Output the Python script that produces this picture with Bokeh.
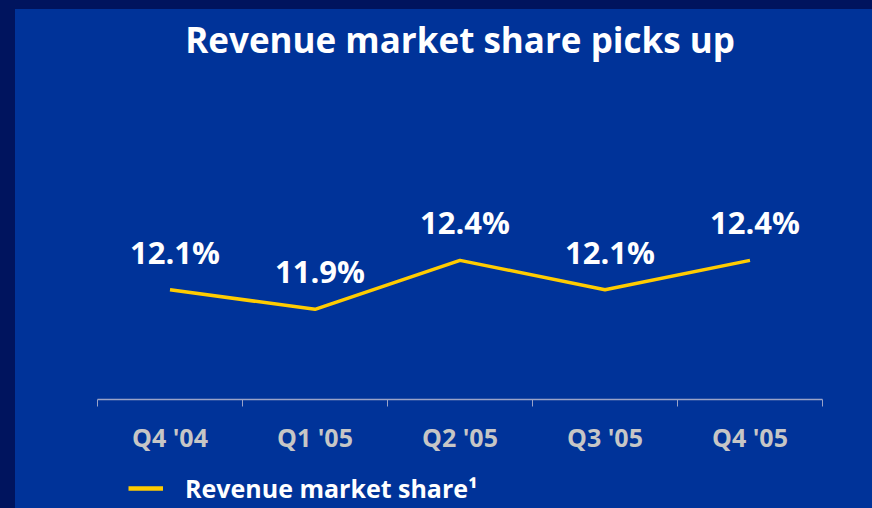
from bokeh.plotting import figure
from bokeh.layouts import column
from bokeh.models import FixedTicker, Legend, LegendItem, Range1d, ColumnDataSource, Title
from bokeh.core.properties import value
from bokeh.embed import file_html
from bokeh.resources import INLINE

quarters = ["Q4 '04", "Q1 '05", "Q2 '05", "Q3 '05", "Q4 '05"]
share = [12.1, 11.9, 12.4, 12.1, 12.4]
share_labels = ["12.1%", "11.9%", "12.4%", "12.1%", "12.4%"]
series_name = "Revenue market share\u00b9"
title_text = "Revenue market share picks up"

BLUE = "#003399"
NAVY = "#00145e"
YELLOW = "#ffcc00"
FONT = "Open Sans"

xpos = [i + 0.5 for i in range(len(quarters))]
src = ColumnDataSource(dict(x=xpos, y=share, lab=share_labels))

p = figure(frame_width=725, frame_height=322, output_backend="svg", toolbar_location=None,
           x_range=Range1d(0, len(quarters)), y_range=Range1d(10.98, 14.266),
           min_border_left=82, min_border_right=50, min_border_top=60, min_border_bottom=60)
p.background_fill_alpha = 0
p.border_fill_alpha = 0
p.outline_line_color = None
p.grid.visible = False
p.yaxis.visible = False

t = Title(text=title_text, text_font=FONT, text_font_size="35px", text_font_style="bold",
          text_color="white", align="center", standoff=29)
p.add_layout(t, "above")

ax = p.xaxis[0]
ax.ticker = FixedTicker(ticks=xpos, minor_ticks=list(range(len(quarters) + 1)))
ax.major_label_overrides = {x: q for x, q in zip(xpos, quarters)}
ax.major_tick_out = 0
ax.major_tick_in = 0
ax.minor_tick_out = 7
ax.minor_tick_in = 0
ax.axis_line_color = "#9aa3c8"
ax.minor_tick_line_color = "#9aa3c8"
ax.axis_line_width = 1.5
ax.major_label_text_font = FONT
ax.major_label_text_font_style = "bold"
ax.major_label_text_font_size = "25px"
ax.major_label_text_color = "#c6c6c6"
ax.major_label_standoff = 13

p.line("x", "y", source=src, line_color=YELLOW, line_width=3.5)
p.text("x", "y", text="lab", source=src, x_offset=5, y_offset=-38,
       text_align="center", text_baseline="middle", text_color="white",
       text_font=value(FONT), text_font_size="31px", text_font_style="bold")

# legend strip below the chart (series drawn off-range so only its legend shows)
p2 = figure(width=857, height=48, output_backend="svg", toolbar_location=None,
            x_range=Range1d(0, 1), y_range=Range1d(0, 1),
            x_axis_type=None, y_axis_type=None,
            min_border_left=0, min_border_right=0, min_border_top=0, min_border_bottom=0)
p2.background_fill_alpha = 0
p2.border_fill_alpha = 0
p2.outline_line_color = None
p2.grid.visible = False
r_leg = p2.line(x=xpos, y=share, line_color=YELLOW, line_width=4.5)

legend = Legend(items=[LegendItem(label=series_name, renderers=[r_leg])],
                location=(31, 2), orientation="horizontal",
                background_fill_alpha=0, border_line_alpha=0,
                label_text_font=FONT, label_text_font_style="bold",
                label_text_font_size="25px", label_text_color="white",
                glyph_width=35, label_standoff=22, margin=0, padding=0)
p2.add_layout(legend, "center")

layout = column(p, p2, spacing=0, styles={"margin-top": "-10px"})

html = file_html(layout, INLINE)
style = ("<style>html { background: %s !important; } "
         "body { background: %s !important; border-left: 15px solid %s; "
         "border-top: 9px solid %s; padding: 0 !important; margin: 0 !important; }"
         "</style></head>" % (NAVY, BLUE, NAVY, NAVY))
html = html.replace("</head>", style, 1)
open("out.html", "w").write(html)
